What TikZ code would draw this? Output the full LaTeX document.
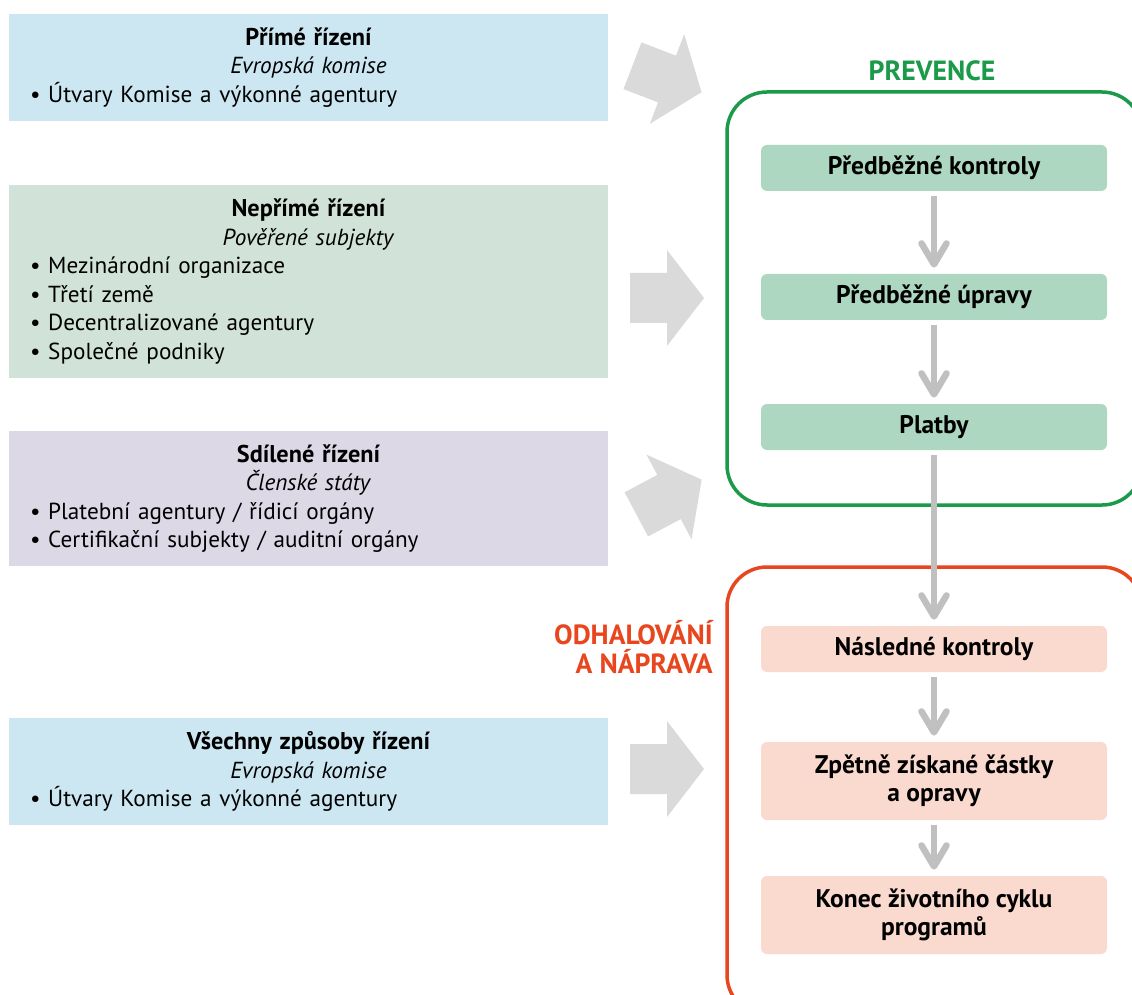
\documentclass[tikz,border=0pt]{standalone}
\usepackage{fontspec}
\setmainfont{PT Sans}
\usetikzlibrary{arrows.meta}

\definecolor{boxblue}{HTML}{CCE7F2}
\definecolor{boxgreen}{HTML}{D1E3D9}
\definecolor{boxlilac}{HTML}{DCD8E6}
\definecolor{stepgreen}{HTML}{ADD7C0}
\definecolor{steppink}{HTML}{FAD9CF}
\definecolor{prevgreen}{HTML}{1B9A4A}
\definecolor{detred}{HTML}{E8461E}
\definecolor{biggrey}{HTML}{DADADA}
\definecolor{flowgrey}{HTML}{C0C0C0}

\newcommand{\mgmttitle}[1]{{\fontsize{13.8}{16.2}\selectfont\bfseries #1}}

\begin{document}
\begin{tikzpicture}[mgmt/.style={rectangle, minimum width=11.98cm, text width=11.14cm, inner xsep=0.42cm, inner ysep=0pt, align=left, font=\fontsize{13.2}{16.2}\selectfont},
    stepbox/.style={rectangle, rounded corners=0.12cm, minimum width=6.92cm, minimum height=0.92cm, align=center, font=\fontsize{14.5}{16}\selectfont\bfseries},
    flow/.style={draw=flowgrey, line width=0.13cm, shorten <=0.1cm, shorten >=0.12cm, -{Straight Barb[length=0.42cm, width=0.5cm, round]}},
    bigarrow/.style={fill=biggrey},
    phase/.style={font=\fontsize{15.8}{17}\selectfont\bfseries, inner sep=0pt}]
    \useasboundingbox (0,0) rectangle (22.64,-19.9);
    \clip (0,0) rectangle (22.64,-19.9);

    % management modes
    \node[mgmt, fill=boxblue, minimum height=2.14cm] (prime) at (6.17,-1.35) {{\centering\mgmttitle{Přímé řízení}\\\textit{Evropská komise}\par}• Útvary Komise a výkonné agentury};
    \node[mgmt, fill=boxgreen, minimum height=3.86cm] (neprime) at (6.17,-5.63) {{\centering\mgmttitle{Nepřímé řízení}\\\textit{Pověřené subjekty}\par}• Mezinárodní organizace\\• Třetí země\\• Decentralizované agentury\\• Společné podniky};
    \node[mgmt, fill=boxlilac, minimum height=2.7cm] (sdilene) at (6.17,-9.97) {{\centering\mgmttitle{Sdílené řízení}\\\textit{Členské státy}\par}• Platební agentury / řídicí orgány\\• Certifikační subjekty / auditní orgány};
    \node[mgmt, fill=boxblue, minimum height=2.14cm] (vsechny) at (6.17,-15.43) {{\centering\mgmttitle{Všechny způsoby řízení}\\\textit{Evropská komise}\par}• Útvary Komise a výkonné agentury};

    \fill[bigarrow, shift={(13.34,-1.58)}, rotate=-21] (-0.74,0.5) -- (0,0.5) -- (0,0.96) -- (0.74,0) -- (0,-0.96) -- (0,-0.5) -- (-0.74,-0.5) -- cycle;
    \fill[bigarrow, shift={(13.34,-5.96)}] (-0.74,0.5) -- (0,0.5) -- (0,0.96) -- (0.74,0) -- (0,-0.96) -- (0,-0.5) -- (-0.74,-0.5) -- cycle;
    \fill[bigarrow, shift={(13.38,-9.94)}, rotate=28] (-0.74,0.5) -- (0,0.5) -- (0,0.96) -- (0.74,0) -- (0,-0.96) -- (0,-0.5) -- (-0.74,-0.5) -- cycle;
    \fill[bigarrow, shift={(13.34,-15.38)}] (-0.74,0.5) -- (0,0.5) -- (0,0.96) -- (0.74,0) -- (0,-0.96) -- (0,-0.5) -- (-0.74,-0.5) -- cycle;

    % frames
    \draw[draw=prevgreen, line width=0.07cm, rounded corners=0.8cm] (14.54,-1.84) rectangle (22.84,-10.1);
    \draw[draw=detred, line width=0.07cm, rounded corners=0.8cm] (14.54,-11.34) rectangle (22.84,-20.3);
    \node[phase, text=prevgreen] (prevence) at (18.64,-1.42) {PREVENCE};
    \node[phase, text=detred, align=right, anchor=east] (odhalovani) at (14.26,-12.94) {ODHALOVÁNÍ\\A NÁPRAVA};

    % steps
    \node[stepbox, fill=stepgreen] (prekontroly) at (18.68,-3.36) {Předběžné kontroly};
    \node[stepbox, fill=stepgreen] (preupravy) at (18.68,-5.94) {Předběžné úpravy};
    \node[stepbox, fill=stepgreen] (platby) at (18.68,-8.54) {Platby};
    \node[stepbox, fill=steppink] (naskontroly) at (18.68,-12.98) {Následné kontroly};
    \node[stepbox, fill=steppink, minimum height=1.56cm] (castky) at (18.68,-15.62) {Zpětně získané částky\\a opravy};
    \node[stepbox, fill=steppink, minimum height=1.56cm] (konec) at (18.68,-18.3) {Konec životního cyklu\\programů};

    \draw[flow] (prekontroly) -- (preupravy);
    \draw[flow] (preupravy) -- (platby);
    \draw[flow] (platby) -- (naskontroly);
    \draw[flow] (naskontroly) -- (castky);
    \draw[flow] (castky) -- (konec);
\end{tikzpicture}
\end{document}
